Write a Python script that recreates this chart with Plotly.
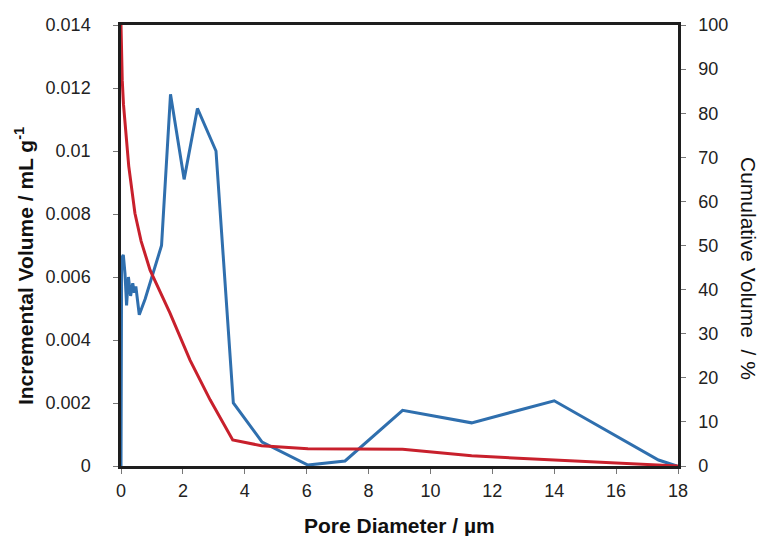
import plotly.graph_objects as go

# Incremental volume (left axis)
inc_x = [0, 0.02, 0.075, 0.13, 0.18, 0.24, 0.31, 0.38, 0.43, 0.48, 0.59, 0.78, 1.31, 1.6,
         2.04, 2.47, 3.07, 3.63, 4.56, 6.04, 7.24, 9.1, 11.33, 14.0, 17.37, 17.96]
inc_y = [0, 0.0066, 0.0067, 0.0061, 0.0051, 0.0060, 0.0054, 0.0058, 0.0055, 0.0057, 0.0048,
         0.0053, 0.0070, 0.0118, 0.0091, 0.01135, 0.0100, 0.0020, 0.00076, 0.00003, 0.00016,
         0.00177, 0.00137, 0.00207, 0.00019, 0.0]

# Cumulative volume (right axis)
cum_x = [0, 0.02, 0.04, 0.08, 0.16, 0.25, 0.45, 0.65, 0.94, 1.58, 2.23, 2.88, 3.61,
         4.54, 6.04, 9.1, 11.33, 14.0, 18.0]
cum_y = [100, 93, 87.5, 82, 76, 68, 57.3, 51, 44.4, 34.7, 24, 15, 5.9,
         4.6, 3.9, 3.8, 2.3, 1.4, 0]

x_ticks = list(range(0, 19, 2))
y_tickvals = [0, 0.002, 0.004, 0.006, 0.008, 0.010, 0.012, 0.014]
y_ticktext = ["0", "0.002", "0.004", "0.006", "0.008", "0.01", "0.012", "0.014"]
y2_ticks = list(range(0, 101, 10))

FONT = "Liberation Sans, Arial, sans-serif"
AXC = "#1e1e1e"
TICKF = dict(size=18, color="#222")
TITLEF = dict(size=21, color="#111")

fig = go.Figure()
fig.add_trace(go.Scatter(x=inc_x, y=inc_y, mode="lines",
                         line=dict(color="#2f6fae", width=3), yaxis="y", showlegend=False))
fig.add_trace(go.Scatter(x=cum_x, y=cum_y, mode="lines",
                         line=dict(color="#c8202c", width=3), yaxis="y2", showlegend=False))

fig.update_layout(
    width=761, height=536,
    margin=dict(l=121, r=83, t=25, b=70, autoexpand=False),
    paper_bgcolor="white", plot_bgcolor="white",
    font=dict(family=FONT, size=18, color="#222"),
    xaxis=dict(range=[0, 18], tickvals=x_ticks, showgrid=False, zeroline=False,
               showline=True, linecolor=AXC, linewidth=2.5, mirror=True,
               ticks="outside", ticklen=5, tickcolor="#777", tickwidth=1,
               ticklabelstandoff=2, automargin=False, tickfont=TICKF),
    yaxis=dict(range=[0, 0.014], tickvals=y_tickvals, ticktext=y_ticktext,
               showgrid=False, zeroline=False,
               showline=True, linecolor=AXC, linewidth=2.5,
               ticks="outside", ticklen=5, tickcolor="#777", tickwidth=1,
               ticklabelstandoff=19, automargin=False, tickfont=TICKF),
    yaxis2=dict(range=[0, 100], tickvals=y2_ticks, overlaying="y", side="right",
                showgrid=False, zeroline=False,
                showline=True, linecolor=AXC, linewidth=2.5,
                ticks="outside", ticklen=5, tickcolor="#777", tickwidth=1,
                ticklabelstandoff=9, automargin=False, tickfont=TICKF),
    annotations=[
        dict(text="<b>Pore Diameter / µm</b>", xref="paper", yref="paper",
             x=0.5, y=-0.1338, xanchor="center", yanchor="middle",
             showarrow=False, font=TITLEF),
        dict(text="<b>Incremental Volume / mL g<sup>-1</sup></b>", textangle=-90,
             xref="paper", yref="paper", x=-0.174, y=0.4535,
             xanchor="center", yanchor="middle", showarrow=False, font=TITLEF),
        dict(text="Cumulative Volume  / %", textangle=90,
             xref="paper", yref="paper", x=1.1257, y=0.449,
             xanchor="center", yanchor="middle", showarrow=False, font=TITLEF),
    ],
)

fig.write_html("out.html", config={"displayModeBar": False},
               post_script="document.body.style.margin='0';")
